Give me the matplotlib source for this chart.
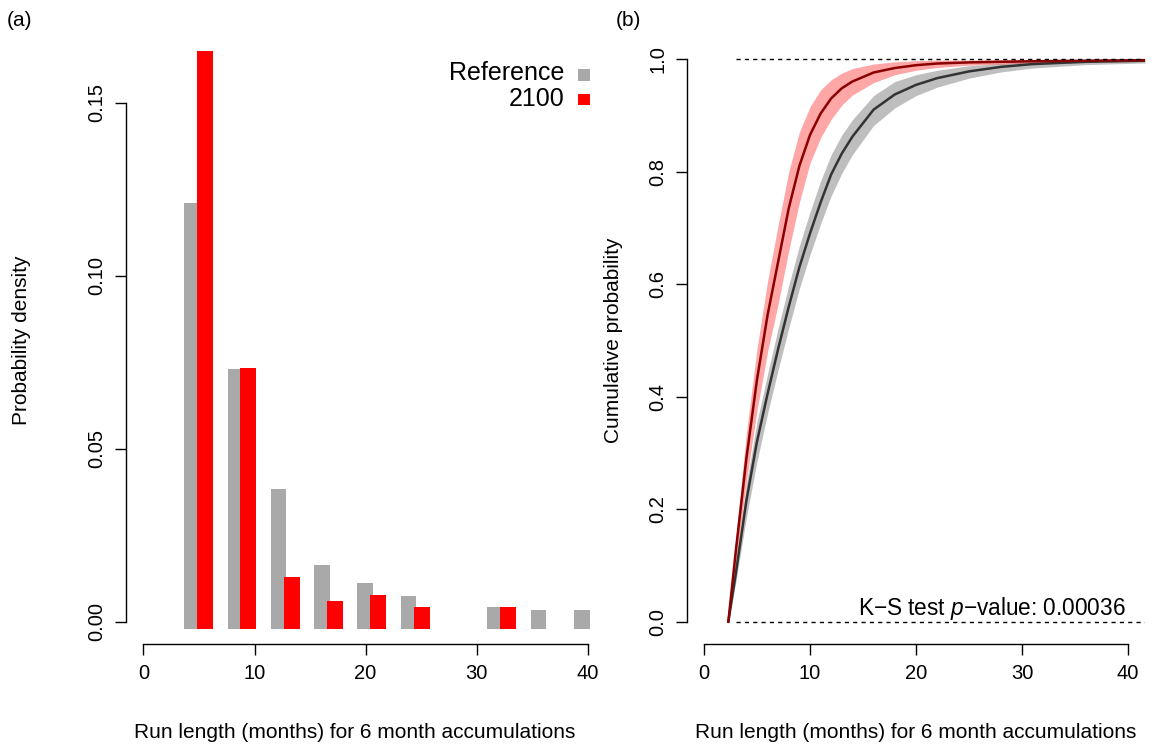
import numpy as np
import matplotlib
matplotlib.use("Agg")
import matplotlib.pyplot as plt
from matplotlib.patches import Rectangle

plt.rcParams['font.family'] = ['Liberation Sans', 'DejaVu Sans']
plt.rcParams['mathtext.fontset'] = 'custom'
plt.rcParams['mathtext.rm'] = 'Liberation Sans'
plt.rcParams['mathtext.it'] = 'Liberation Sans:italic'

# (a) densities of run lengths, one bar pair per bin
ref_density = [0.121, 0.0731, 0.0384, 0.0164, 0.0112, 0.0075, 0.0, 0.0043, 0.0034, 0.0034]
fut_density = [0.165, 0.0735, 0.0128, 0.0059, 0.0076, 0.0043, 0.0, 0.0043, 0.0, 0.0]

# (b) cumulative probability: median and spread across ensemble
run_len = [2.3, 3, 4, 5, 6, 7, 8, 9, 10, 11, 12, 13, 14, 16, 18, 20, 22, 25, 28, 31, 36, 41.6]
ref_med = [0, 0.085, 0.215, 0.32, 0.405, 0.485, 0.56, 0.63, 0.69, 0.745, 0.795, 0.832, 0.862,
           0.91, 0.937, 0.954, 0.966, 0.978, 0.986, 0.991, 0.995, 0.997]
ref_lo = [0, 0.07, 0.185, 0.285, 0.37, 0.448, 0.522, 0.592, 0.652, 0.707, 0.757, 0.797, 0.83,
          0.882, 0.913, 0.935, 0.95, 0.966, 0.977, 0.984, 0.99, 0.993]
ref_hi = [0, 0.10, 0.245, 0.355, 0.44, 0.522, 0.598, 0.668, 0.728, 0.783, 0.83, 0.865, 0.892,
          0.935, 0.96, 0.972, 0.98, 0.988, 0.992, 0.995, 0.997, 0.998]
fut_med = [0, 0.125, 0.29, 0.43, 0.545, 0.64, 0.735, 0.81, 0.865, 0.903, 0.93, 0.948, 0.96,
           0.976, 0.984, 0.989, 0.992, 0.994, 0.995, 0.996, 0.997, 0.998]
fut_lo = [0, 0.10, 0.25, 0.375, 0.48, 0.565, 0.66, 0.745, 0.815, 0.86, 0.893, 0.918, 0.936,
          0.958, 0.972, 0.98, 0.985, 0.989, 0.991, 0.993, 0.995, 0.996]
fut_hi = [0, 0.15, 0.335, 0.485, 0.605, 0.705, 0.80, 0.87, 0.915, 0.945, 0.963, 0.975, 0.983,
          0.991, 0.995, 0.997, 0.998, 0.998, 0.999, 0.999, 0.999, 0.9995]
ks_pvalue = "0.00036"

W, H = 1165, 748
fig = plt.figure(figsize=(W / 100, H / 100), dpi=100)


def fx(px):
    return px / W


def fy(py):
    return 1 - py / H


ax1 = fig.add_axes([fx(125.7), fy(644.2), 462 / W, 607.7 / H])
ax2 = fig.add_axes([fx(687), fy(644.2), 458 / W, 607.7 / H])

for ax in (ax1, ax2):
    for s in ('top', 'right'):
        ax.spines[s].set_visible(False)
    ax.spines['left'].set_linewidth(1.0)
    ax.spines['bottom'].set_linewidth(1.0)
    ax.tick_params(direction='out', length=8, width=1.0, labelsize=14.5, pad=6)
    ax.set_xticks([0, 10, 20, 30, 40])
    ax.spines['bottom'].set_bounds(0, 40)

# ---- panel (a)
base = -0.002
idx = np.arange(len(ref_density))
gray_left = 3.67 + 3.9 * idx
ref = np.array(ref_density)
fut = np.array(fut_density)
ax1.bar(gray_left[ref > 0], ref[ref > 0] - base, width=1.4, bottom=base, align='edge',
        color='#A9A9A9', linewidth=0, clip_on=False)
ax1.bar(gray_left[fut > 0] + 1.15, fut[fut > 0] - base, width=1.45, bottom=base, align='edge',
        color='#FF0000', linewidth=0, clip_on=False)
ax1.set_xlim(-1.6, 40.0)
ax1.set_ylim(-0.0065, 0.1692)
ax1.set_yticks([0.0, 0.05, 0.10, 0.15])
ax1.set_yticklabels(['0.00', '0.05', '0.10', '0.15'], rotation=90, va='center')
ax1.spines['left'].set_bounds(0, 0.15)

# legend: text first, key square on the right
fig.text(fx(564), fy(73), 'Reference', ha='right', va='center', fontsize=18)
fig.text(fx(564), fy(99), '2100', ha='right', va='center', fontsize=18)
fig.patches.append(Rectangle((fx(578), fy(81)), 12 / W, 12 / H, transform=fig.transFigure,
                             facecolor='#A9A9A9', edgecolor='none'))
fig.patches.append(Rectangle((fx(578), fy(105)), 12 / W, 11 / H, transform=fig.transFigure,
                             facecolor='#FF0000', edgecolor='none'))

# ---- panel (b)
x = np.array(run_len)
ax2.fill_between(x, ref_lo, ref_hi, color='#BEBEBE', linewidth=0)
ax2.fill_between(x, fut_lo, fut_hi, color='#FF0000', alpha=0.35, linewidth=0)
ax2.plot(x, ref_med, color='#333333', lw=1.8)
ax2.plot(x, fut_med, color='#8B0000', lw=1.8)
ax2.hlines([0, 1], 3.0, 41.6, colors='black', linestyles=(0, (3, 3)), lw=1.0)
ax2.text(39.8, 0.012, r'K$-$S test $\mathit{p}$$-$value: ' + ks_pvalue, ha='right',
         va='baseline', fontsize=16.3)
ax2.set_xlim(-1.6, 41.6)
ax2.set_ylim(-0.04, 1.04)
ax2.set_yticks([0, 0.2, 0.4, 0.6, 0.8, 1.0])
ax2.set_yticklabels(['0.0', '0.2', '0.4', '0.6', '0.8', '1.0'], rotation=90, va='center')
ax2.spines['left'].set_bounds(0, 1)

# axis titles and panel tags
xlab = 'Run length (months) for 6 month accumulations'
fig.text(fx(354.7), fy(733), xlab, ha='center', va='center', fontsize=15)
fig.text(fx(916), fy(733), xlab, ha='center', va='center', fontsize=15)
fig.text(fx(22), fy(340), 'Probability density', rotation=90, ha='center', va='center', fontsize=15)
fig.text(fx(614), fy(340), 'Cumulative probability', rotation=90, ha='center', va='center',
         fontsize=15)
fig.text(fx(19), fy(20), '(a)', ha='center', va='center', fontsize=15)
fig.text(fx(628), fy(21), '(b)', ha='center', va='center', fontsize=15)

fig.savefig('out.png', dpi=100)
